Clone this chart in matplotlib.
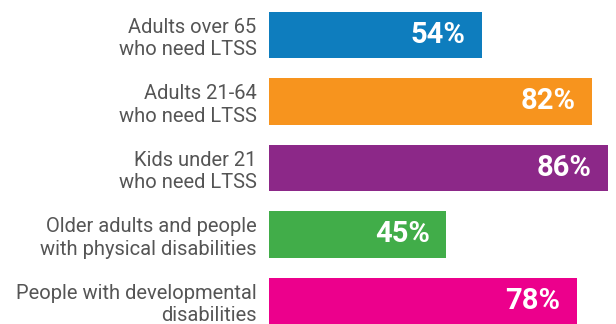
import matplotlib.pyplot as plt

# Chart data
categories = [
    "Adults over 65\nwho need LTSS",
    "Adults 21-64\nwho need LTSS",
    "Kids under 21\nwho need LTSS",
    "Older adults and people\nwith physical disabilities",
    "People with developmental\ndisabilities",
]
values = [54, 82, 86, 45, 78]
colors = ['#0e7dbe', '#f7941e', '#8c2888', '#41ad49', '#ec008c']

fig = plt.figure(figsize=(6.16, 3.24), dpi=100)
ax = fig.add_axes([269 / 616, 0, 1 - 269 / 616, 1])

ypos = list(range(len(values)))
ax.barh(ypos, values, height=0.70, color=colors)

ax.set_xlim(0, 88)
ax.set_ylim(4.346, -0.526)

# Category labels on the left
ax.set_yticks(ypos)
ax.set_yticklabels(categories, fontsize=14.5, color='#555555', family='Roboto',
                   linespacing=1.22)
ax.tick_params(axis='y', length=0, pad=9)
ax.set_xticks([])
for lbl in ax.get_yticklabels():
    lbl.set_multialignment('right')

# Value labels inside bars
for y, v in zip(ypos, values):
    ax.annotate(f"{v}%", (v, y), xytext=(-12, 0), textcoords='offset points',
                ha='right', va='center', color='white', fontsize=21,
                fontweight='bold', family='Roboto')

for s in ax.spines.values():
    s.set_visible(False)

plt.savefig('out.png', dpi=100)
